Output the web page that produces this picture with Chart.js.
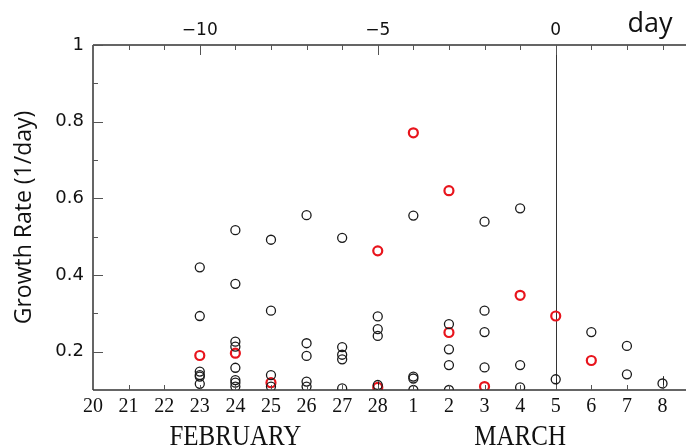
<!DOCTYPE html>
<html>
<head>
<meta charset="utf-8">
<script src="https://cdn.jsdelivr.net/npm/chart.js@4.4.1/dist/chart.umd.min.js"></script>
<style>
html,body{margin:0;padding:0;background:#fff;}
canvas{display:block;}
</style>
</head>
<body>
<canvas id="c" width="686" height="448"></canvas>
<script>
// Days relative to March 5 (day 0)
const dayTicks = [-13,-12,-11,-10,-9,-8,-7,-6,-5,-4,-3,-2,-1,0,1,2,3];
const dateLabels = ["20","21","22","23","24","25","26","27","28","1","2","3","4","5","6","7","8"];
const topTicks = [-10,-5,0];
const topLabels = ["\u221210","\u22125","0"];
const yTicks = [0.2,0.4,0.6,0.8,1];
const monthLabels = ["FEBRUARY","MARCH"];
const monthCenters = [-9,-1];

const pointDays = [-10,-9,-8,-7,-6,-5,-4,-3,-2,-1,0,1,2,3];
const blackRates = [
  [0.42,0.293,0.148,0.139,0.135,0.116],
  [0.517,0.377,0.226,0.213,0.158,0.126,0.119,0.109],
  [0.492,0.307,0.139,0.109],
  [0.556,0.222,0.189,0.122,0.109],
  [0.497,0.212,0.192,0.18,0.104],
  [0.292,0.259,0.241,0.113],
  [0.555,0.135,0.13,0.1],
  [0.272,0.206,0.165,0.1],
  [0.539,0.307,0.251,0.159],
  [0.574,0.165,0.107],
  [0.128],
  [0.251],
  [0.215,0.141],
  [0.117]
];
const redRates = [
  [0.19],
  [0.196],
  [0.119],
  [],
  [],
  [0.463,0.107],
  [0.771],
  [0.62,0.25],
  [0.109],
  [0.347],
  [0.293],
  [0.177],
  [],
  []
];
// vertical error marks: day, low, high
const errDays = [-5,0,3];
const errLow = [0.1,0.1,0.103];
const errHigh = [0.122,0.128,0.136];

function toPoints(rates){
  const pts=[];
  rates.forEach((arr,i)=>arr.forEach(v=>pts.push({x:pointDays[i],y:v})));
  return pts;
}

const AX = '#333';
const decor = {
  id:'decor',
  beforeDatasetsDraw(chart){
    const {ctx, chartArea:a, scales} = chart;
    const x = scales.x;
    ctx.save();
    ctx.strokeStyle = AX;
    ctx.lineWidth = 1;
    const x0 = Math.round(x.getPixelForValue(0))+0.5;
    ctx.beginPath(); ctx.moveTo(x0,a.top); ctx.lineTo(x0,a.bottom); ctx.stroke();
    ctx.restore();
  },
  afterDatasetsDraw(chart){
    const {ctx, chartArea:a, scales} = chart;
    const x = scales.x, y = scales.y;
    ctx.save();
    ctx.strokeStyle = '#222'; ctx.lineWidth = 1;
    errDays.forEach((d,i)=>{
      const px = Math.round(x.getPixelForValue(d))+0.5;
      ctx.beginPath();
      ctx.moveTo(px, y.getPixelForValue(errLow[i]));
      ctx.lineTo(px, y.getPixelForValue(errHigh[i]));
      ctx.stroke();
    });
    ctx.strokeStyle = AX;
    ctx.lineWidth = 1.5;
    ctx.beginPath();
    ctx.moveTo(a.left, a.top); ctx.lineTo(a.right, a.top);
    ctx.moveTo(a.left, a.bottom); ctx.lineTo(a.right, a.bottom);
    ctx.moveTo(a.left, a.top); ctx.lineTo(a.left, a.bottom);
    ctx.stroke();
    ctx.lineWidth = 1;
    ctx.strokeStyle = '#555';
    dayTicks.forEach(d=>{
      const px = Math.round(x.getPixelForValue(d))+0.5;
      if (px <= a.left+1) return;
      ctx.beginPath();
      ctx.moveTo(px, a.bottom); ctx.lineTo(px, a.bottom-5);
      const major = topTicks.includes(d);
      ctx.moveTo(px, a.top); ctx.lineTo(px, a.top + (major?10:5));
      ctx.stroke();
    });
    for (let v=0.2; v<=1.001; v+=0.1){
      const py = Math.round(y.getPixelForValue(v))+0.5;
      const major = Math.abs(Math.round(v*10)%2)===0;
      ctx.beginPath();
      ctx.moveTo(a.left, py); ctx.lineTo(a.left + (major?10:5), py);
      ctx.stroke();
    }
    ctx.fillStyle = '#111';
    ctx.textAlign = 'center';
    ctx.textBaseline = 'alphabetic';
    monthLabels.forEach((m,i)=>{
      ctx.save();
      ctx.translate(x.getPixelForValue(monthCenters[i]), 445);
      ctx.scale(1, 1.15);
      ctx.font = '25px "Liberation Serif"';
      ctx.fillText(m, 0, 0);
      ctx.restore();
    });
    ctx.font = '27px "Open Sans"';
    ctx.fillText('day', 650, 32);
    ctx.restore();
  }
};

new Chart(document.getElementById('c'), {
  type: 'scatter',
  data: {
    datasets: [
      {
        data: toPoints(blackRates),
        pointStyle: 'circle',
        pointRadius: 4.5,
        pointHoverRadius: 4.5,
        borderColor: '#1a1a1a',
        backgroundColor: 'rgba(0,0,0,0)',
        pointBorderWidth: 1.3,
        clip: 0
      },
      {
        data: toPoints(redRates),
        pointStyle: 'circle',
        pointRadius: 4.5,
        pointHoverRadius: 4.5,
        borderColor: '#e8141c',
        backgroundColor: 'rgba(0,0,0,0)',
        pointBorderWidth: 2.2,
        clip: 0
      }
    ]
  },
  options: {
    responsive: false,
    animation: false,
    devicePixelRatio: 1,
    layout: { padding: 0, autoPadding: false },
    plugins: { legend: {display:false}, tooltip: {enabled:false} },
    scales: {
      x: {
        type: 'linear', position: 'bottom', min: -13, max: 3.66,
        grid: { display: false, drawTicks: false }, border: { display: false },
        afterBuildTicks(s){ s.ticks = dayTicks.map(v=>({value:v})); },
        afterFit(s){ s.height = 58; },
        ticks: {
          autoSkip: false, maxRotation: 0, padding: 5,
          color: '#111', font: { family: '"Liberation Serif"', size: 20 },
          callback(v){ const i = dayTicks.indexOf(v); return i>=0 ? dateLabels[i] : ''; }
        }
      },
      x2: {
        type: 'linear', position: 'top', min: -13, max: 3.66,
        grid: { display: false, drawTicks: false }, border: { display: false },
        afterBuildTicks(s){ s.ticks = topTicks.map(v=>({value:v})); },
        afterFit(s){ s.height = 45; },
        ticks: {
          autoSkip: false, maxRotation: 0, padding: 4,
          color: '#111', font: { family: '"DejaVu Sans"', size: 17 },
          callback(v){ const i = topTicks.indexOf(v); return i>=0 ? topLabels[i] : ''; }
        }
      },
      y: {
        type: 'linear', position: 'left', min: 0.1, max: 1,
        grid: { display: false, drawTicks: false }, border: { display: false },
        afterBuildTicks(s){ s.ticks = yTicks.map(v=>({value:v})); },
        afterFit(s){ s.width = 93; },
        ticks: {
          padding: 9, color: '#111', font: { family: '"DejaVu Sans"', size: 18 },
          callback(v){ return v===1 ? '1' : v.toFixed(1); }
        },
        title: {
          display: true, text: 'Growth Rate (1/day)', color: '#111',
          font: { family: '"Open Sans"', size: 23 },
          padding: { top: 11, bottom: 0 }
        }
      }
    }
  },
  plugins: [decor]
});
</script>
</body>
</html>
